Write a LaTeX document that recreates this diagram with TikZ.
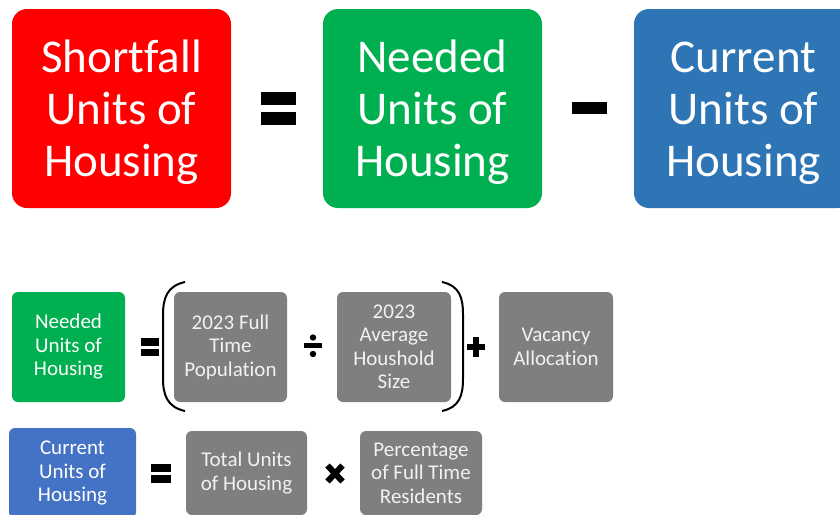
\documentclass[tikz,border=0pt]{standalone}
\usepackage{fontspec}
\setmainfont{Carlito}[Ligatures={NoCommon}]
\definecolor{cred}{HTML}{FF0000}
\definecolor{cgreen}{HTML}{00B050}
\definecolor{cbluetop}{HTML}{2E75B6}
\definecolor{cbluesm}{HTML}{4472C4}
\definecolor{cgray}{HTML}{7F7F7F}
\definecolor{cgtext}{HTML}{F2F2F2}
\newcommand{\toppad}{\rule{0pt}{40pt}}
\tikzset{
  bigbox/.style={rectangle, rounded corners=15pt, minimum width=219pt, minimum height=199pt,
    text=white, font=\fontsize{47}{52}\selectfont, align=center, inner sep=0pt},
  smallbox/.style={rectangle, rounded corners=6pt, text=white,
    font=\fontsize{21}{23.5}\selectfont, align=center, inner sep=0pt},
  graybox/.style={smallbox, fill=cgray, text=cgtext},
  opfill/.style={fill=black, draw=none},
  paren/.style={draw=black, line width=2pt}
}
\begin{document}
\begin{tikzpicture}[x=1pt,y=-1pt]
\clip (0,0) rectangle (840,514);
\fill[white] (0,0) rectangle (840,514);
% top row
\node[bigbox, fill=cred] (short) at (121.5,108.5) {\toppad Shortfall\\Units of\\Housing};
\node[bigbox, fill=cgreen] (need) at (432.5,108.5) {\toppad Needed\\Units of\\Housing};
\node[bigbox, fill=cbluetop] (curr) at (743.5,108.5) {\toppad Current\\Units of\\Housing};
% top operators
\path[opfill] (261,92) rectangle (296,105);
\path[opfill] (261,112) rectangle (296,125);
\path[opfill] (572,102) rectangle (607,114);
% row 1
\node[smallbox, fill=cgreen, minimum width=113pt, minimum height=110pt] (need2) at (68.5,347) {Needed\\Units of\\Housing};
\node[graybox, minimum width=113pt, minimum height=110pt] (pop) at (230.5,347) {2023 Full\\Time\\Population};
\node[graybox, minimum width=114pt, minimum height=110pt] (hh) at (394,347) {2023\\Average\\Houshold\\Size};
\node[graybox, minimum width=114pt, minimum height=110pt] (vac) at (556,347) {Vacancy\\Allocation};
% row 1 operators
\path[opfill] (141,338) rectangle (159,345.5);
\path[opfill] (141,348.5) rectangle (159,356);
\path[opfill] (304,343) rectangle (322,348);
\fill[black] (313,337.5) circle (3.2);
\fill[black] (313,354) circle (3.2);
\path[opfill] (467,344) rectangle (485,350);
\path[opfill] (473,337) rectangle (479,357);
% parentheses
\draw[paren] (185,282) .. controls (167,286) and (163,298) .. (163,315) -- (163,378) .. controls (163,395) and (167,407) .. (185,411);
\draw[paren] (442,282) .. controls (460,286) and (463,298) .. (463,315) -- (463,378) .. controls (463,395) and (460,407) .. (442,411);
% row 2
\node[smallbox, fill=cbluesm, minimum width=127pt, minimum height=90pt] (curr2) at (72.5,473) {Current\\Units of\\Housing};
\node[graybox, minimum width=121pt, minimum height=84pt] (total) at (246.5,473) {Total Units\\of Housing};
\node[graybox, minimum width=122pt, minimum height=84pt] (pct) at (421,473) {Percentage\\of Full Time\\Residents};
% row 2 operators
\path[opfill] (151,464) rectangle (171,472);
\path[opfill] (151,475) rectangle (171,483);
\draw[black, line width=6pt] (327.5,465.5) -- (342.5,481.5);
\draw[black, line width=6pt] (342.5,465.5) -- (327.5,481.5);
\end{tikzpicture}
\end{document}
